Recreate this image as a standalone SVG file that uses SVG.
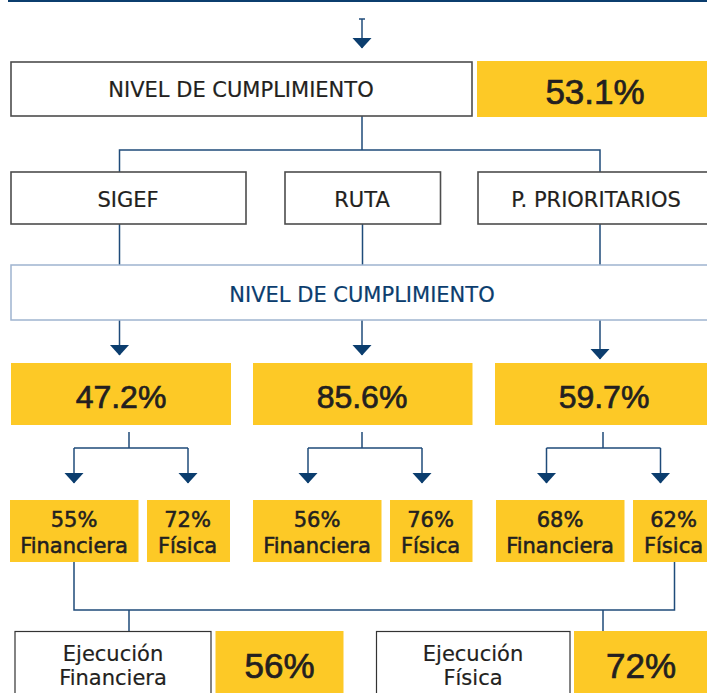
<svg xmlns="http://www.w3.org/2000/svg" width="707" height="693" viewBox="0 0 707 693">
<defs>
<marker id="ah" markerUnits="userSpaceOnUse" markerWidth="12" markerHeight="20" viewBox="0 -10 12 20" refX="10" refY="0" orient="auto">
<path d="M0,-9.5 L10.5,0 L0,9.5 z" fill="#0b3d6e"/>
</marker>
<style>
.box{fill:#ffffff;stroke:#4d4d4d;stroke-width:1.6}
.box2{fill:#ffffff;stroke:#333333;stroke-width:1.2}
.yel{fill:#fdc926}
.lb{fill:#ffffff;stroke:#9fb4cf;stroke-width:1.5}
.ln{fill:none;stroke:#1f4b7a;stroke-width:1.5}
.t{font-family:"DejaVu Sans",sans-serif;font-size:21px;fill:#231f20;stroke:#231f20;stroke-width:0.2;text-anchor:middle}
.tb{font-family:"DejaVu Sans",sans-serif;font-size:21px;fill:#231f20;stroke:#231f20;stroke-width:0.55;text-anchor:middle}
.n{font-family:"Liberation Sans",Arial,sans-serif;fill:#231f20;stroke:#231f20;stroke-width:0.7;text-anchor:middle}
</style>
</defs>
<rect x="8" y="0" width="699" height="2" fill="#0b3d6e"/>
<g id="connectors">
<path class="ln" d="M359,19 H365"/>
<path class="ln" d="M362,19 V48" marker-end="url(#ah)"/>
<path class="ln" d="M362,116 V150 M119.5,172 V150 H600 V172"/>
<path class="ln" d="M119.5,224 V265 M362.5,224 V265 M600,224 V265"/>
<path class="ln" d="M119.5,320 V355" marker-end="url(#ah)"/>
<path class="ln" d="M362,320 V355" marker-end="url(#ah)"/>
<path class="ln" d="M600,320 V359" marker-end="url(#ah)"/>
<path class="ln" d="M129,432 V448 M74,448 H188"/>
<path class="ln" d="M74,448 V483" marker-end="url(#ah)"/>
<path class="ln" d="M188,448 V483" marker-end="url(#ah)"/>
<path class="ln" d="M362,432 V448 M308,448 H422"/>
<path class="ln" d="M308,448 V483" marker-end="url(#ah)"/>
<path class="ln" d="M422,448 V483" marker-end="url(#ah)"/>
<path class="ln" d="M603,432 V448 M546.5,448 H660.5"/>
<path class="ln" d="M546.5,448 V483" marker-end="url(#ah)"/>
<path class="ln" d="M660.5,448 V483" marker-end="url(#ah)"/>
<path class="ln" d="M74,562 V610 H674.5 V562 M129,610 V631 M603,610 V631"/>
</g>
<g id="nivel-top">
<rect class="box" x="11" y="62" width="461" height="54"/>
<text class="t" x="241" y="97">NIVEL DE CUMPLIMIENTO</text>
</g>
<g id="total">
<rect class="yel" x="477" y="61" width="230" height="56"/>
<text class="n" x="595" y="103.5" font-size="35">53.1%</text>
</g>
<g id="sigef">
<rect class="box" x="11" y="172" width="235" height="52"/>
<text class="t" x="128" y="207">SIGEF</text>
</g>
<g id="ruta">
<rect class="box" x="285" y="172" width="155.5" height="52"/>
<text class="t" x="362" y="207">RUTA</text>
</g>
<g id="prioritarios">
<rect class="box" x="478" y="172" width="232" height="52"/>
<text class="t" x="596" y="207">P. PRIORITARIOS</text>
</g>
<g id="nivel-mid">
<rect class="lb" x="11" y="265" width="699" height="55"/>
<text class="t" x="362" y="302" style="fill:#0b3d6e;stroke:#0b3d6e">NIVEL DE CUMPLIMIENTO</text>
</g>
<g id="p-sigef">
<rect class="yel" x="11" y="363" width="220" height="62"/>
<text class="n" x="121" y="408" font-size="32">47.2%</text>
</g>
<g id="p-ruta">
<rect class="yel" x="253" y="363" width="219.5" height="62"/>
<text class="n" x="362" y="408" font-size="32">85.6%</text>
</g>
<g id="p-prior">
<rect class="yel" x="495" y="363" width="212" height="62"/>
<text class="n" x="604" y="408" font-size="32">59.7%</text>
</g>
<g id="s-fin">
<rect class="yel" x="10" y="500" width="128.5" height="62"/>
<text class="tb" x="74" y="527">55%</text>
<text class="tb" x="74" y="553">Financiera</text>
</g>
<g id="s-fis">
<rect class="yel" x="147" y="500" width="83" height="62"/>
<text class="tb" x="187.5" y="527">72%</text>
<text class="tb" x="187.5" y="553">Física</text>
</g>
<g id="r-fin">
<rect class="yel" x="253" y="500" width="128.5" height="62"/>
<text class="tb" x="317" y="527">56%</text>
<text class="tb" x="317" y="553">Financiera</text>
</g>
<g id="r-fis">
<rect class="yel" x="390" y="500" width="82.5" height="62"/>
<text class="tb" x="430.5" y="527">76%</text>
<text class="tb" x="430.5" y="553">Física</text>
</g>
<g id="p-fin">
<rect class="yel" x="496" y="500" width="128.5" height="62"/>
<text class="tb" x="560" y="527">68%</text>
<text class="tb" x="560" y="553">Financiera</text>
</g>
<g id="p-fis">
<rect class="yel" x="633" y="500" width="74" height="62"/>
<text class="tb" x="673.5" y="527">62%</text>
<text class="tb" x="673.5" y="553">Física</text>
</g>
<g id="ej-fin">
<rect class="box2" x="15" y="631.5" width="196" height="70"/>
<text class="t" x="113" y="661">Ejecución</text>
<text class="t" x="113" y="685">Financiera</text>
</g>
<g id="ej-fin-val">
<rect class="yel" x="215.5" y="631" width="128" height="62"/>
<text class="n" x="279.5" y="678" font-size="35">56%</text>
</g>
<g id="ej-fis">
<rect class="box2" x="376.5" y="631.5" width="193.5" height="70"/>
<text class="t" x="473" y="661">Ejecución</text>
<text class="t" x="473" y="685">Física</text>
</g>
<g id="ej-fis-val">
<rect class="yel" x="574" y="631" width="133" height="62"/>
<text class="n" x="641" y="678" font-size="35">72%</text>
</g>
</svg>
